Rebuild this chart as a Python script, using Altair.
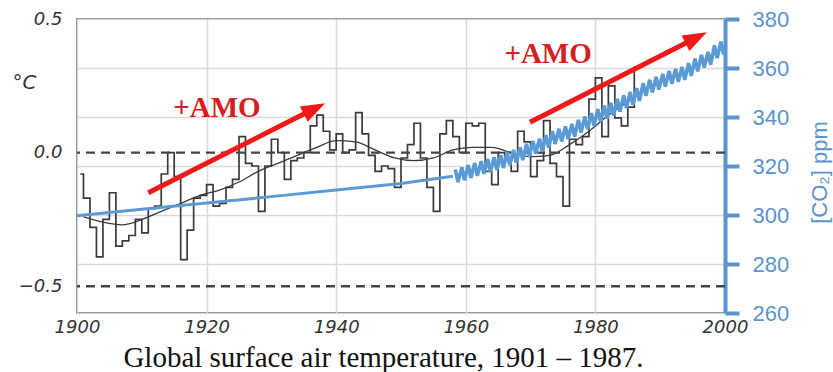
import altair as alt
import pandas as pd

# ---------------- data ----------------
temp_years = list(range(1901, 1988))
temp_values = [
    -0.08, -0.17, -0.28, -0.39, -0.25, -0.15, -0.35, -0.33, -0.31, -0.25,
    -0.30, -0.21, -0.20, -0.08, 0.00, -0.09, -0.40, -0.29, -0.17, -0.16,
    -0.12, -0.20, -0.19, -0.13, -0.10, 0.06, -0.04, -0.05, -0.22, -0.05,
    0.05, 0.00, -0.10, -0.03, -0.02, 0.00, 0.10, 0.14, 0.08, 0.01,
    0.07, 0.00, 0.01, 0.15, 0.07, -0.01, -0.07, -0.05, -0.06, -0.13,
    -0.02, 0.03, 0.11, -0.02, -0.13, -0.22, 0.07, 0.12, 0.06, 0.00,
    0.11, 0.10, 0.11, -0.07, -0.12, 0.00, -0.02, -0.07, 0.08, 0.04,
    -0.09, -0.03, 0.12, -0.04, -0.09, -0.20, 0.05, 0.03, 0.06, 0.20,
    0.28, 0.06, 0.25, 0.13, 0.10, 0.17, 0.32,
]

smooth_years = [1901, 1904, 1907, 1910, 1913, 1916, 1919, 1922, 1925, 1928,
                1931, 1934, 1937, 1940, 1943, 1946, 1949, 1952, 1955, 1958,
                1961, 1964, 1967, 1970, 1973, 1976, 1979, 1982, 1985]
smooth_values = [-0.24, -0.26, -0.27, -0.25, -0.22, -0.19, -0.16, -0.14, -0.11, -0.07,
                 -0.04, -0.01, 0.02, 0.045, 0.04, 0.01, -0.02, -0.03, -0.02, 0.01,
                 0.02, 0.02, 0.00, -0.015, -0.01, 0.03, 0.08, 0.14, 0.19]

dash_levels = [0.0, -0.5]

co2_early_years = [1900, 1910, 1920, 1930, 1940, 1950, 1958]
co2_early_values = [299.7, 302.3, 304.9, 307.5, 310.2, 312.9, 315.8]

wave_years = list(range(1958, 2001))
co2_peaks = [318.6, 319.4, 320.4, 321.2, 322.0, 322.8, 323.6, 324.4, 325.6, 326.6,
             327.6, 329.0, 330.2, 331.2, 332.6, 334.2, 335.2, 336.2, 337.2, 338.8,
             340.2, 341.6, 343.2, 344.6, 345.8, 347.4, 348.8, 350.2, 351.8, 353.8,
             355.2, 356.4, 357.6, 358.8, 359.6, 360.4, 362.0, 363.8, 365.4, 366.6,
             369.2, 370.8, 372.0]
co2_troughs = [313.4, 314.2, 315.2, 316.0, 316.8, 317.6, 318.4, 319.2, 320.4, 321.4,
               322.4, 323.8, 325.0, 326.0, 327.4, 329.0, 330.0, 331.0, 332.0, 333.6,
               335.0, 336.4, 338.0, 339.4, 340.6, 342.2, 343.6, 345.0, 346.6, 348.6,
               350.0, 351.2, 352.4, 353.6, 354.4, 355.2, 356.8, 358.6, 360.2, 361.4,
               364.0, 365.6, 366.8]
peak_month = 5
trough_month = 10

arrow_tail_year = [1911.0, 1969.9]
arrow_tail_temp = [-0.15, 0.114]
arrow_tip_year = [1938.3, 1997.2]
arrow_tip_temp = [0.185, 0.45]

amo_year = [1921.6, 1972.7]
amo_temp = [0.133, 0.334]
amo_label = ["+AMO", "+AMO"]

x_ticks = [1900, 1920, 1940, 1960, 1980, 2000]
temp_ticks = [-0.5, 0.0, 0.5]
co2_ticks = [260, 280, 300, 320, 340, 360, 380]

# ---------------- tables ----------------
temp_df = pd.DataFrame({"year": temp_years, "temp": temp_values})
smooth_df = pd.DataFrame({"year": smooth_years, "temp": smooth_values})
dash_df = pd.DataFrame({"level": dash_levels})
early_df = pd.DataFrame({"year": co2_early_years, "co2": co2_early_values})
wave_df = pd.concat([
    pd.DataFrame({"year": [y + (peak_month - 0.5) / 12 for y in wave_years], "co2": co2_peaks}),
    pd.DataFrame({"year": [y + (trough_month - 0.5) / 12 for y in wave_years], "co2": co2_troughs}),
]).sort_values("year")
arrow_df = pd.DataFrame({"ty": arrow_tail_year, "tt": arrow_tail_temp,
                         "hy": arrow_tip_year, "ht": arrow_tip_temp})
amo_df = pd.DataFrame({"year": amo_year, "temp": amo_temp, "label": amo_label})

# ---------------- styling ----------------
RED = "#EE1A1A"
TEXT_RED = "#D42020"
BLUE = "#5B9BD5"
AXIS_BLUE = "#5B93CC"
INK = "#3a3a3a"
GRID = "#d9d9d9"

xscale = alt.Scale(domain=[1900, 2000], nice=False, zero=False)
tscale = alt.Scale(domain=[-0.6, 0.5], nice=False, zero=False)
cscale = alt.Scale(domain=[260, 380], nice=False, zero=False)

xaxis = alt.Axis(
    values=x_ticks, format="d", grid=True, gridColor=GRID, gridWidth=1.5,
    domain=False, ticks=False, tickSize=0, labelFlush=False, labelOverlap=False,
    labelFont="DejaVu Sans", labelFontStyle="italic", labelFontSize=18,
    labelColor="#333333", labelPadding=5,
    title="Global surface air temperature, 1901 – 1987.",
    titleFont="Liberation Serif", titleFontSize=29, titleFontWeight="normal",
    titleColor="#111111", titleX=306, titleY=53, titleAlign="center",
    titleBaseline="alphabetic",
)
taxis = alt.Axis(
    orient="left", values=temp_ticks, format=".1f", grid=False, domain=False,
    ticks=False, tickSize=0, labelFont="DejaVu Sans", labelFontStyle="italic",
    labelFontSize=18, labelColor="#333333", labelPadding=15,
    title="°C", titleAngle=0, titleX=-53, titleY=63, titleAlign="center",
    titleBaseline="middle", titleFont="DejaVu Sans", titleFontStyle="italic",
    titleFontWeight="normal", titleFontSize=20, titleColor="#333333",
)
caxis = alt.Axis(
    orient="right", values=co2_ticks, grid=True, gridColor=GRID, gridWidth=1.5,
    domain=True, domainColor=AXIS_BLUE, domainWidth=4, ticks=True,
    tickColor=AXIS_BLUE, tickWidth=4, tickSize=14, labelColor=AXIS_BLUE,
    labelFont="Liberation Sans", labelFontSize=22, labelPadding=13,
    title="[CO₂] ppm", titleColor=AXIS_BLUE, titleFont="Liberation Sans",
    titleFontSize=22, titleFontWeight="normal", titleAngle=270, titleX=94,
    titleY=153, titleAlign="center", titleBaseline="middle",
)


def X(field):
    return alt.X(field, scale=xscale, axis=xaxis)


def T(field):
    return alt.Y(field, scale=tscale, axis=taxis)


def C(field):
    return alt.Y(field, scale=cscale, axis=caxis)


step = alt.Chart(temp_df).transform_calculate(xpos="datum.year - 0.5").mark_line(
    interpolate="step", color=INK, strokeWidth=1.7
).encode(x=X("xpos:Q"), y=T("temp:Q"))

smooth = alt.Chart(smooth_df).mark_line(
    interpolate="monotone", color=INK, strokeWidth=1.3
).encode(x=X("year:Q"), y=T("temp:Q"))

dashes = alt.Chart(dash_df).mark_rule(
    color="#444444", strokeWidth=2.3, strokeDash=[9, 6]
).encode(y=T("level:Q"))

shafts = alt.Chart(arrow_df).transform_calculate(
    ey="datum.ty + 0.94 * (datum.hy - datum.ty)",
    et="datum.tt + 0.94 * (datum.ht - datum.tt)",
).mark_rule(color=RED, strokeWidth=5).encode(
    x=X("ty:Q"), y=T("tt:Q"), x2="ey:Q", y2="et:Q",
)

heads = alt.Chart(arrow_df).mark_point(
    shape="M0,0 L0.36,1 L-0.36,1 Z", size=2304, filled=True, color=RED,
    opacity=1, angle=63, strokeWidth=0,
).encode(x=X("hy:Q"), y=T("ht:Q"))

amo = alt.Chart(amo_df).mark_text(
    font="Liberation Serif", fontWeight="bold", fontSize=29, color=TEXT_RED,
    align="center", baseline="alphabetic",
).encode(x=X("year:Q"), y=T("temp:Q"), text="label:N")

temp_group = alt.layer(step, smooth, dashes, shafts, heads, amo)

co2_early = alt.Chart(early_df).mark_line(color=BLUE, strokeWidth=3).encode(
    x=X("year:Q"), y=C("co2:Q"),
)
co2_wave = alt.Chart(wave_df).mark_line(color=BLUE, strokeWidth=3.6, clip=True).encode(
    x=X("year:Q"), y=C("co2:Q"),
)
co2_group = alt.layer(co2_early, co2_wave)

chart = alt.layer(temp_group, co2_group).resolve_scale(y="independent").properties(
    width=648, height=294,
    padding={"left": 77, "top": 19, "right": 108, "bottom": 59},
    autosize=alt.AutoSizeParams(type="none"),
    background="white",
).configure_view(stroke="#555555", strokeWidth=1.5)

chart.save("out.html", embed_options={"renderer": "svg", "actions": False})
